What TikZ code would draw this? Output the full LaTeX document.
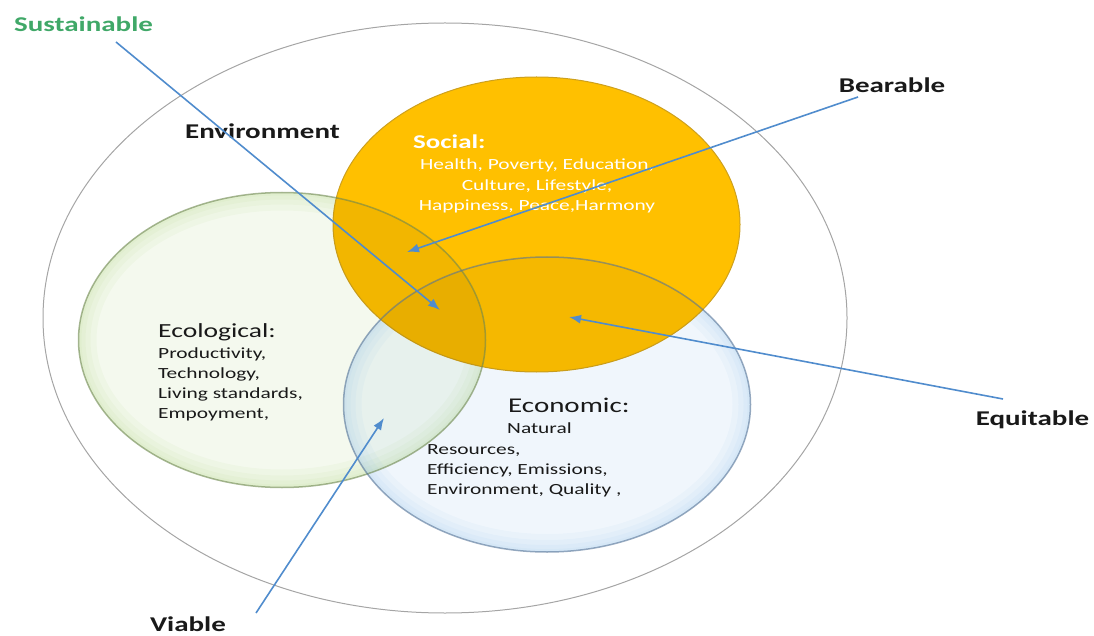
\documentclass[tikz,border=0pt]{standalone}
\usepackage{fontspec}
\setmainfont{Carlito}[FakeStretch=1.38]
\usetikzlibrary{arrows.meta}
\definecolor{gold}{RGB}{255,192,0}
\definecolor{goldline}{RGB}{205,160,30}
\definecolor{ecofill}{RGB}{165,205,115}
\definecolor{ecoline}{RGB}{110,135,80}
\definecolor{econfill}{RGB}{135,185,230}
\definecolor{econline}{RGB}{85,115,150}
\definecolor{ringgray}{RGB}{165,165,165}
\definecolor{arrowblue}{RGB}{80,140,205}
\definecolor{sustgreen}{RGB}{64,168,104}

\begin{document}
\begin{tikzpicture}[x=1pt, y=-1pt,
	link/.style={draw=arrowblue, line width=1.6pt, -{Latex[length=12pt,width=9pt]}},
	tag/.style={font=\fontsize{21}{25}\selectfont\bfseries, anchor=base, inner sep=0pt, text=black!90},
	head/.style={font=\fontsize{20}{24}\selectfont, anchor=base west, inner sep=0pt, text=black!90},
	body/.style={font=\fontsize{15.5}{20}\selectfont, anchor=base west, inner sep=0pt, text=black!90}]
	\useasboundingbox (0,0) rectangle (1094,636);

	\draw[ringgray, line width=1pt] (445,318) ellipse [x radius=402, y radius=295];
	\foreach \c/\p in {ecofill/{282,340}, econfill/{547,404.5}} {
		\fill[\c, fill opacity=0.12] (\p) ellipse [x radius=203.5, y radius=147.5];
		\begin{scope}
			\clip (\p) ellipse [x radius=203.5, y radius=147.5];
			\foreach \w in {36,24,14,6}
				\draw[\c, line width=\w pt, opacity=0.07] (\p) ellipse [x radius=203.5, y radius=147.5];
		\end{scope}
	}
	\filldraw[fill=gold, draw=goldline, line width=1pt] (536.5,224.5) ellipse [x radius=203.5, y radius=147.5];
	\begin{scope}
		\clip (536.5,224.5) ellipse [x radius=203.5, y radius=147.5];
		\fill[black, fill opacity=0.05] (282,340) ellipse [x radius=203.5, y radius=147.5];
		\fill[black, fill opacity=0.04] (547,404.5) ellipse [x radius=203.5, y radius=147.5];
	\end{scope}
	\draw[ecoline, opacity=0.6, line width=1.5pt] (282,340) ellipse [x radius=203.5, y radius=147.5];
	\draw[econline, opacity=0.6, line width=1.5pt] (547,404.5) ellipse [x radius=203.5, y radius=147.5];

	\node[tag, text=sustgreen] (Sust) at (83.5,32) {Sustainable};
	\node[tag] (Env) at (262.5,139) {Environment};
	\node[tag] (Bear) at (892,93) {Bearable};
	\node[tag] (Equi) at (1032.5,425) {Equitable};
	\node[tag] (Viab) at (188,631) {Viable};

	\node[head, font=\fontsize{19.5}{24}\selectfont\bfseries, text=white] (Soc) at (413,149) {Social:};
	\foreach \t [count=\i] in {{Health, Poverty, Education,},{Culture, Lifestyle,},{Happiness, Peace,Harmony}}
		\node[body, anchor=base, text=white] (soc\i) at (537,149.5+20.5*\i) {\t};

	\node[head] (Eco) at (158,337) {Ecological:};
	\foreach \t [count=\i] in {{Productivity,},{Technology,},{Living standards,},{Empoyment,}}
		\node[body] (eco\i) at (158,338+20*\i) {\t};

	\node[head, font=\fontsize{21}{25}\selectfont] (Econ) at (508,412) {Economic:};
	\foreach \x/\y/\t [count=\i] in {507/433/Natural, 427/454/{Resources,}, 427/474/{Efficiency, Emissions,}, 427/494/{Environment, Quality ,}}
		\node[body] (econ\i) at (\x,\y) {\t};

	\coordinate (SustH) at (440,310);
	\coordinate (BearH) at (407,252);
	\coordinate (EquiH) at (569,317);
	\coordinate (ViabH) at (384,418);

	\draw[link] ([shift={(32.5,10)}]Sust.base) -- (SustH);
	\draw[link] ([shift={(-34,4)}]Bear.base) -- (BearH);
	\draw[link] ([shift={(-29.5,-26)}]Equi.base) -- (EquiH);
	\draw[link] ([shift={(68,-18)}]Viab.base) -- (ViabH);
\end{tikzpicture}
\end{document}
